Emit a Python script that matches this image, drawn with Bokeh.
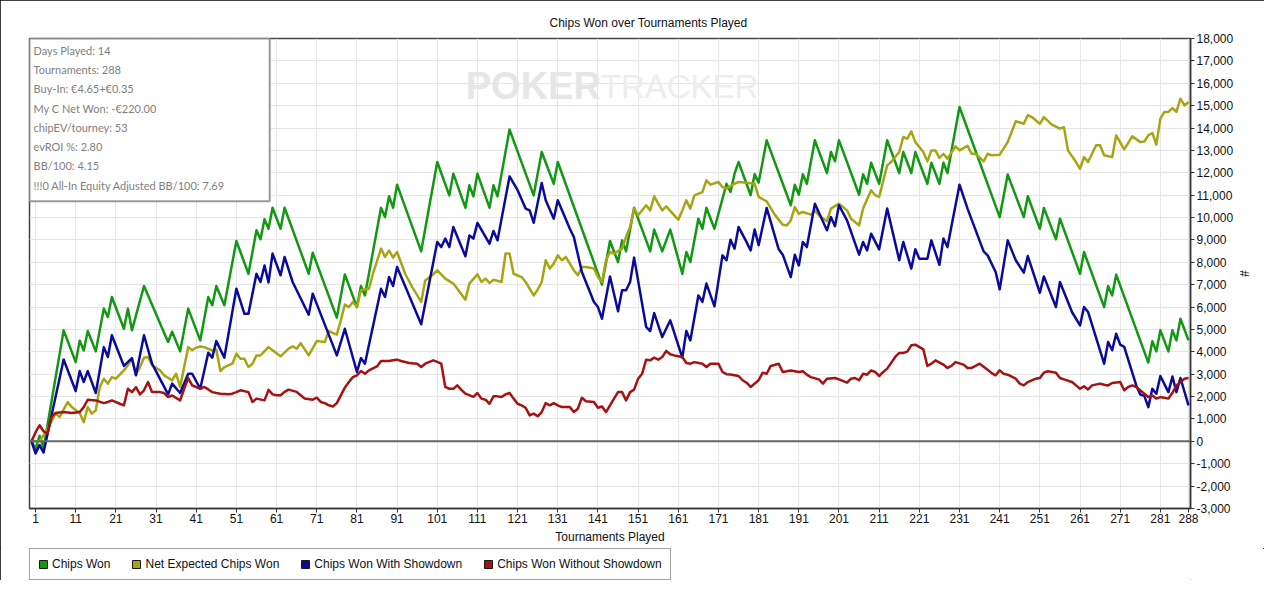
from bokeh.plotting import figure
from bokeh.layouts import column
from bokeh.models import (Range1d, FixedTicker, NumeralTickFormatter, Span,
                          BoxAnnotation, Label, Legend, LegendItem)
from bokeh.embed import file_html
from bokeh.resources import INLINE

title_text = "Chips Won over Tournaments Played"
x_axis_title = "Tournaments Played"
y_axis_title = "#"
x_ticks = [1, 11, 21, 31, 41, 51, 61, 71, 81, 91, 101, 111, 121, 131, 141, 151,
           161, 171, 181, 191, 201, 211, 221, 231, 241, 251, 261, 271, 281, 288]
y_ticks = list(range(-3000, 18001, 1000))

info_lines = ["Days Played: 14", "Tournaments: 288", "Buy-In: \u20ac4.65+\u20ac0.35",
              "My C Net Won: -\u20ac220.00", "chipEV/tourney: 53", "evROI %: 2.80",
              "BB/100: 4.15", "!!!0 All-In Equity Adjusted BB/100: 7.69"]

series_names = ["Chips Won", "Net Expected Chips Won", "Chips Won With Showdown",
                "Chips Won Without Showdown"]
series_colors = ["#129812", "#a6a614", "#0b0b9b", "#a51212"]

# Chips Won (vertices: tournament index, chips)
chips_won_t = [0, 1, 2, 3, 8, 11, 12, 13, 14, 16, 18, 19, 20, 23, 24, 25, 28, 34, 35, 37, 39, 42, 44, 45, 46, 48,
               51, 54, 56, 57, 58, 59, 60, 62, 63, 69, 70, 76, 78, 81, 82, 83, 87, 88, 89, 90, 91, 97, 101, 104,
               105, 108, 109, 110, 111, 114, 115, 116, 119, 125, 127, 130, 131, 142, 144, 146, 147, 148, 150, 154,
               155, 157, 159, 162, 163, 164, 166, 167, 168, 170, 173, 174, 175, 176, 178, 179, 180, 181, 183, 189,
               190, 191, 192, 193, 195, 198, 199, 200, 201, 206, 207, 208, 209, 211, 213, 216, 217, 219, 220, 223,
               224, 226, 227, 228, 231, 241, 243, 247, 248, 251, 252, 255, 256, 261, 262, 267, 268, 269, 270, 278,
               279, 280, 281, 283, 284, 285, 286, 288]
chips_won_v = [0, -350, 250, -300, 4960, 3540, 4500, 4060, 4930, 4020, 5930, 5560, 6450, 5030, 5930, 4960, 6940,
               4440, 4900, 4020, 5930, 4510, 6450, 6080, 6940, 6080, 8950, 7490, 9430, 9030, 9920, 9500, 10440,
               9500, 10440, 7490, 8430, 5530, 7460, 6000, 6940, 6520, 10440, 10020, 10950, 10440, 11470, 8490,
               12480, 10990, 11960, 10440, 11440, 10950, 11960, 10440, 11440, 10950, 13930, 10990, 12930, 11510,
               12480, 7000, 8950, 8010, 8980, 8490, 10440, 8490, 9460, 8490, 9460, 7490, 8460, 8010, 9950, 9500,
               10440, 9500, 11510, 11140, 11960, 12480, 11500, 11000, 11940, 11560, 13450, 10550, 11470, 11020,
               11930, 11510, 13450, 11990, 12930, 12510, 13450, 11020, 11930, 11510, 12450, 11510, 13450, 11990,
               12930, 11990, 12930, 11510, 12450, 11510, 12450, 11990, 14940, 10020, 11920, 10020, 10950, 9500,
               10430, 9030, 9950, 7490, 8460, 6000, 6940, 6520, 7450, 3520, 4470, 4020, 4960, 4020, 4960, 4510,
               5480, 4510]

# Net Expected Chips Won
net_expected_t = [0, 2, 3, 6, 7, 9, 10, 12, 13, 14, 15, 16, 17, 18, 19, 20, 21, 23, 24, 25, 26, 27, 28, 29, 30,
                  32, 33, 35, 36, 37, 39, 40, 41, 42, 43, 45, 46, 47, 48, 50, 51, 52, 53, 54, 55, 56, 57, 59, 60,
                  62, 64, 65, 66, 67, 69, 71, 73, 74, 76, 77, 78, 79, 80, 81, 82, 84, 85, 87, 88, 89, 90, 91, 93,
                  95, 97, 98, 100, 101, 103, 105, 106, 108, 109, 111, 112, 113, 114, 115, 117, 118, 119, 120, 122,
                  123, 125, 126, 127, 128, 129, 130, 131, 132, 133, 135, 136, 137, 138, 140, 141, 142, 143, 144,
                  145, 147, 148, 149, 150, 151, 153, 154, 155, 156, 157, 158, 160, 161, 162, 163, 164, 165, 167,
                  168, 169, 171, 172, 173, 175, 176, 178, 180, 181, 183, 185, 187, 188, 189, 190, 191, 192, 194,
                  195, 196, 198, 199, 201, 203, 204, 206, 207, 209, 210, 211, 213, 214, 216, 217, 218, 219, 220,
                  222, 223, 224, 225, 226, 227, 228, 230, 231, 233, 234, 235, 237, 238, 239, 241, 243, 245, 247,
                  248, 249, 251, 252, 254, 256, 257, 258, 260, 261, 262, 263, 265, 266, 267, 269, 270, 272, 274,
                  276, 277, 278, 279, 280, 281, 282, 283, 284, 285, 286, 287, 288]
net_expected_v = [0, 0, 270, 1240, 1090, 1760, 1540, 1270, 860, 1530, 1240, 1390, 2430, 2800, 2580, 2870, 2800,
                  3170, 3400, 3690, 2990, 3320, 3740, 3770, 3400, 3170, 2950, 2730, 3020, 2430, 4210, 4070, 4190,
                  4240, 4210, 4060, 4100, 3140, 3320, 3470, 3920, 3690, 3690, 3320, 3470, 3840, 3840, 4210, 4070,
                  3800, 4140, 4240, 4140, 4390, 3840, 4480, 4440, 4930, 4770, 5410, 6110, 6000, 6230, 6000, 6750,
                  6820, 7490, 8610, 8240, 8530, 8210, 8460, 7490, 6820, 6230, 7190, 7460, 7640, 7270, 7050, 6820,
                  6330, 7050, 7460, 7120, 7270, 7080, 7220, 7120, 8390, 8390, 7490, 7340, 7120, 6520, 6780, 7120,
                  8090, 7720, 7940, 8310, 8090, 8240, 7640, 7420, 7790, 7790, 7720, 7340, 7120, 8090, 8460, 8390,
                  8610, 9130, 9580, 10400, 10100, 10550, 10320, 10950, 10620, 10320, 10500, 10100, 9900, 10320,
                  10770, 10400, 10990, 11140, 11660, 11470, 11590, 11360, 11290, 11510, 11590, 11550, 11510, 10920,
                  10720, 10130, 9680, 9650, 9870, 10470, 10170, 10250, 10130, 10320, 10100, 9830, 10400, 10620,
                  10320, 9950, 9650, 10400, 11220, 11000, 10920, 12330, 12480, 12930, 13600, 13520, 13850, 13370,
                  12930, 12510, 13000, 13000, 12660, 12850, 12630, 13180, 13000, 13200, 12850, 12850, 12510, 12850,
                  12780, 12810, 13370, 14300, 14190, 14570, 14490, 14190, 14490, 14150, 13970, 14040, 13000, 12480,
                  12180, 12700, 12480, 13230, 13230, 12780, 12700, 13670, 13050, 13630, 13370, 13400, 13670, 13780,
                  13260, 14420, 14720, 14720, 14890, 14720, 15310, 15010, 15160]

# Chips Won With Showdown
showdown_t = [0, 1, 2, 3, 4, 8, 11, 12, 13, 14, 16, 18, 19, 20, 23, 25, 26, 28, 30, 34, 35, 37, 39, 40, 42, 44,
              45, 46, 48, 51, 53, 54, 56, 57, 58, 59, 60, 62, 63, 65, 69, 70, 76, 78, 81, 82, 83, 87, 88, 89, 90,
              91, 97, 101, 102, 103, 104, 105, 108, 109, 110, 111, 114, 115, 116, 119, 121, 123, 124, 125, 127,
              128, 130, 131, 134, 135, 137, 140, 141, 142, 144, 146, 147, 148, 149, 150, 153, 154, 155, 157, 159,
              162, 163, 164, 166, 167, 168, 170, 172, 173, 174, 175, 176, 178, 179, 180, 181, 183, 186, 187, 189,
              190, 191, 192, 193, 195, 198, 199, 200, 201, 203, 206, 207, 208, 209, 211, 213, 216, 217, 219, 220,
              221, 223, 224, 226, 227, 228, 231, 233, 237, 238, 240, 241, 243, 245, 247, 248, 251, 252, 255, 256,
              259, 261, 262, 263, 267, 268, 269, 270, 271, 272, 275, 276, 277, 278, 279, 280, 281, 283, 284, 285,
              286, 288]
showdown_v = [0, -540, -170, -500, 340, 3660, 2250, 3140, 2650, 3140, 2160, 4210, 3770, 4740, 3370, 3720, 2950,
              4740, 3470, 2100, 2580, 2160, 3020, 3020, 2350, 3960, 3740, 4480, 3740, 6820, 5700, 5700, 7490, 7120,
              7860, 7100, 8390, 7420, 8240, 7120, 5660, 6600, 3840, 5030, 3100, 3720, 3470, 6820, 6450, 7340, 6940,
              7790, 5230, 8910, 8680, 9060, 8680, 9580, 8270, 9200, 9060, 9760, 8830, 9400, 8980, 11840, 11220,
              10400, 10320, 9770, 11540, 10770, 9950, 10770, 9500, 9130, 7570, 6230, 6000, 5480, 7370, 5810, 6750,
              6750, 7120, 8210, 5110, 4930, 5730, 4660, 5410, 3740, 4930, 4510, 6520, 6230, 7050, 6030, 8310, 8090,
              9010, 8610, 9580, 8900, 8530, 9470, 8760, 10430, 8580, 8340, 7340, 8340, 7860, 8910, 8680, 10620,
              9430, 10020, 9610, 10550, 9870, 8340, 8910, 8530, 9280, 8580, 10400, 8090, 8910, 7720, 8580, 8160,
              8160, 8980, 7890, 9060, 8680, 11470, 10400, 8490, 8310, 7570, 6790, 8980, 8090, 7540, 8280, 6640,
              7370, 6000, 7120, 5780, 5180, 6000, 5780, 3470, 4440, 4070, 4810, 4320, 4220, 2500, 2090, 2030, 1530,
              2350, 2130, 2920, 2200, 2900, 2200, 2830, 1610]

# Chips Won Without Showdown
no_showdown_t = [0, 1, 2, 3, 4, 5, 6, 8, 10, 12, 13, 14, 16, 18, 19, 20, 22, 23, 24, 25, 26, 27, 28, 29, 30, 32,
                 33, 34, 35, 37, 38, 39, 40, 42, 43, 44, 45, 46, 47, 49, 50, 51, 52, 54, 55, 56, 58, 59, 60, 61,
                 62, 63, 64, 66, 67, 68, 70, 71, 72, 73, 74, 75, 76, 78, 79, 80, 81, 82, 83, 84, 86, 87, 89, 90,
                 91, 92, 94, 96, 97, 98, 100, 101, 102, 103, 104, 105, 106, 107, 108, 110, 111, 112, 113, 114, 115,
                 116, 117, 118, 119, 120, 121, 122, 123, 124, 125, 126, 127, 128, 129, 130, 131, 132, 134, 135, 136,
                 137, 138, 140, 141, 142, 143, 144, 145, 146, 147, 148, 149, 150, 151, 152, 153, 154, 155, 156, 157,
                 158, 159, 160, 162, 163, 164, 165, 167, 168, 169, 171, 172, 173, 174, 176, 177, 178, 179, 181, 182,
                 183, 184, 186, 187, 188, 189, 191, 192, 193, 194, 196, 197, 198, 200, 201, 203, 204, 205, 206, 207,
                 208, 209, 210, 211, 212, 213, 215, 216, 217, 218, 219, 220, 222, 223, 224, 225, 227, 228, 229, 230,
                 232, 233, 234, 235, 236, 238, 239, 240, 241, 242, 243, 245, 246, 247, 248, 250, 251, 252, 253, 255,
                 256, 257, 259, 260, 261, 262, 263, 264, 266, 267, 268, 269, 271, 272, 273, 274, 275, 277, 278, 279,
                 280, 281, 283, 284, 285, 287, 288]
no_showdown_v = [0, 400, 720, 450, 350, 1090, 1270, 1310, 1270, 1310, 1530, 1860, 1830, 1710, 1760, 1830, 1680,
                 1610, 2350, 2200, 2420, 2100, 2280, 2650, 2200, 2200, 2160, 1980, 2050, 1830, 2350, 2830, 2500,
                 2350, 2430, 2320, 2200, 2160, 2130, 2100, 2130, 2200, 2280, 2200, 1760, 1910, 1830, 2300, 2100,
                 2060, 2060, 2210, 2310, 2210, 2060, 1910, 1860, 1950, 1760, 1710, 1610, 1560, 1710, 2400, 2650,
                 2870, 2950, 3140, 3020, 3170, 3350, 3590, 3590, 3620, 3650, 3590, 3500, 3470, 3320, 3470, 3620,
                 3550, 3470, 2430, 2350, 2350, 2500, 2300, 2130, 1990, 2160, 1910, 1860, 1680, 2010, 2010, 1980,
                 2100, 2160, 1910, 1680, 1610, 1500, 1160, 1240, 1120, 1310, 1710, 1610, 1710, 1610, 1530, 1530,
                 1310, 1460, 1950, 1790, 1760, 1500, 1560, 1310, 1610, 1910, 2200, 2200, 1830, 2200, 2310, 2800,
                 3020, 3650, 3620, 3740, 3650, 3770, 4040, 3890, 3840, 3770, 3500, 3470, 3540, 3470, 3320, 3470,
                 3470, 3100, 3000, 2990, 2920, 2730, 2620, 2430, 2730, 3070, 3020, 3370, 3470, 3100, 3130, 3170,
                 3100, 3130, 2980, 2870, 2770, 2580, 2800, 2830, 2770, 2620, 2800, 2830, 2730, 3020, 2980, 3170,
                 3100, 2920, 3100, 3250, 3770, 3950, 3950, 4010, 4290, 4320, 4110, 3370, 3470, 3620, 3430, 3280,
                 3370, 3540, 3430, 3280, 3280, 3370, 3470, 3200, 3050, 2950, 3170, 3020, 2980, 2800, 2580, 2500,
                 2650, 2800, 2830, 3070, 3130, 3070, 2830, 2770, 2650, 2500, 2350, 2460, 2320, 2500, 2580, 2530,
                 2500, 2610, 2650, 2280, 2430, 2500, 2430, 2130, 1980, 2050, 1910, 1980, 1910, 2170, 2500, 2800,
                 2830]

series_t = [chips_won_t, net_expected_t, showdown_t, no_showdown_t]
series_v = [chips_won_v, net_expected_v, showdown_v, no_showdown_v]

FONT = "Liberation Sans"

p = figure(width=1264, height=548, output_backend="svg", toolbar_location=None, title=title_text,
           x_range=Range1d(-0.5, 288.5), y_range=Range1d(-3000, 18000),
           y_axis_location="right",
           min_border_left=29, min_border_right=74, min_border_top=38, min_border_bottom=40)
p.background_fill_color = "white"
p.border_fill_color = "white"
p.outline_line_color = "#444444"
p.outline_line_width = 1.5

# title
p.title.align = "left"
p.title.offset = 520
p.title.text_font = FONT
p.title.text_font_size = "12px"
p.title.text_font_style = "normal"
p.title.text_color = "#111111"
p.title.standoff = 17

# axes
p.xaxis.ticker = FixedTicker(ticks=x_ticks)
p.yaxis.ticker = FixedTicker(ticks=y_ticks)
p.yaxis.formatter = NumeralTickFormatter(format="0,0")
p.xaxis.axis_label = x_axis_title
p.yaxis.axis_label = y_axis_title
for ax in (p.xaxis[0], p.yaxis[0]):
    ax.axis_line_color = "#333333"
    ax.axis_line_width = 1.5
    ax.major_tick_line_color = "#333333"
    ax.major_tick_out = 4
    ax.major_tick_in = 0
    ax.minor_tick_line_color = None
    ax.major_label_text_font = FONT
    ax.major_label_text_font_size = "12px"
    ax.major_label_text_color = "#111111"
    ax.axis_label_text_font = FONT
    ax.axis_label_text_font_size = "12px"
    ax.axis_label_text_font_style = "normal"
    ax.axis_label_text_color = "#111111"
p.xaxis.major_label_standoff = 1
p.xaxis.axis_label_standoff = 4
p.yaxis.major_label_standoff = 2
p.yaxis.axis_label_standoff = 1

p.xgrid.grid_line_color = "#e6e6e6"
p.ygrid.grid_line_color = "#e6e6e6"
p.xgrid.grid_line_width = 1
p.ygrid.grid_line_width = 1

# zero line
p.add_layout(Span(location=0, dimension="width", line_color="#666666", line_width=2))

# watermark
p.add_layout(Label(x=108.1, y=15871, text="POKER", text_font=FONT, text_font_style="bold",
                   text_font_size="38px", text_color="#e6e6e6", text_baseline="middle", text_align="left"))
p.add_layout(Label(x=141.7, y=15871, text="TRACKER", text_font=FONT, text_font_style="normal",
                   text_font_size="33px", text_color="#ededed", text_baseline="middle", text_align="left"))

# series lines
for t, v, c in zip(series_t, series_v, series_colors):
    p.line(t, v, line_color=c, line_width=2.5, line_join="round")

# info box
p.add_layout(BoxAnnotation(left=-0.5, right=59.3, top=18000, bottom=10730, fill_color="white",
                           fill_alpha=1.0, line_color="#999999", line_width=2, line_alpha=1.0))
for i, line in enumerate(info_lines):
    p.add_layout(Label(x=0.5, y=17480 - i * 862, text=line, text_font="Lato",
                       text_font_size="11px", text_color="#7f7f7f", text_baseline="middle",
                       text_align="left"))

# legend strip below the chart
lg = figure(width=1264, height=32, output_backend="svg", toolbar_location=None, title=None,
            x_range=Range1d(0, 1), y_range=Range1d(0, 1),
            x_axis_location=None, y_axis_location=None,
            min_border_left=29, min_border_right=0, min_border_top=0, min_border_bottom=0)
lg.outline_line_color = None
lg.grid.visible = False
lg.background_fill_color = "white"
lg.border_fill_color = "white"
nan = float("nan")
items = []
for name, c in zip(series_names, series_colors):
    r = lg.quad(left=[nan], right=[nan], top=[nan], bottom=[nan], fill_color=c,
                line_color="#1a1a1a", line_width=1)
    items.append(LegendItem(label=name, renderers=[r]))
legend = Legend(items=items, orientation="horizontal", location="top_left", margin=0,
                padding=8, spacing=21, glyph_width=10, glyph_height=10, label_height=10,
                label_standoff=4, label_text_font=FONT, label_text_font_size="12px",
                label_text_color="#111111", border_line_color="#444444", border_line_width=1,
                background_fill_color="white", background_fill_alpha=1.0)
lg.add_layout(legend)

layout = column(p, lg, spacing=0)
layout.styles = {"outline": "1px solid #000000", "outline-offset": "-1px", "background": "white"}

open("out.html", "w").write(file_html(layout, INLINE))
